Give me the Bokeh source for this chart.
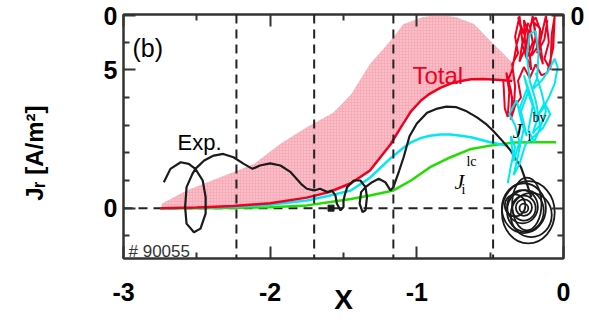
from bokeh.plotting import figure
from bokeh.models import Label, Span, LinearAxis, FixedTicker
from bokeh.embed import file_html
from bokeh.resources import INLINE

# ---------------- data ----------------
band_x = [-2.74, -2.57, -2.34, -2.11, -1.93, -1.75, -1.57, -1.45, -1.32, -1.18,
          -1.09, -0.96, -0.85, -0.73, -0.61, -0.50, -0.41, -0.34]
band_upper = [0.16, 0.64, 1.12, 1.6, 2.33, 2.92, 3.45, 4.1, 5.2, 6.05,
              6.66, 6.9, 7.0, 6.9, 6.66, 6.05, 5.58, 5.2]
band_lower = [0.0, 0.02, 0.06, 0.13, 0.22, 0.35, 0.55, 0.85, 1.3, 2.3,
              3.2, 4.0, 4.35, 4.55, 4.67, 4.65, 4.6, 4.6]

total_x = [-2.75, -2.5, -2.25, -2.0, -1.75, -1.6, -1.45, -1.32, -1.18, -1.1,
           -1.04, -0.97, -0.91, -0.84, -0.77, -0.7, -0.63, -0.55, -0.48, -0.35]
total_y = [0.0, 0.02, 0.08, 0.18, 0.38, 0.58, 0.9, 1.36, 2.3, 3.0,
           3.5, 3.9, 4.14, 4.35, 4.5, 4.6, 4.66, 4.67, 4.65, 4.6]

bv_x = [-2.75, -2.5, -2.25, -2.0, -1.75, -1.6, -1.45, -1.32, -1.18, -1.1,
        -1.04, -0.97, -0.91, -0.84, -0.77, -0.7, -0.63, -0.5, -0.38]
bv_y = [0.0, 0.01, 0.05, 0.12, 0.28, 0.45, 0.64, 1.1, 1.8, 2.15,
        2.38, 2.54, 2.62, 2.66, 2.66, 2.62, 2.56, 2.38, 2.26]

lc_x = [-2.75, -2.5, -2.25, -2.0, -1.75, -1.59, -1.45, -1.32, -1.16, -1.04,
        -0.91, -0.77, -0.63, -0.5, -0.34, -0.2, -0.05]
lc_y = [0.0, 0.0, 0.01, 0.03, 0.1, 0.22, 0.33, 0.46, 0.64, 1.0,
        1.48, 1.84, 2.14, 2.26, 2.37, 2.38, 2.38]

exp_x = [-2.725, -2.68, -2.61, -2.555, -2.51, -2.46, -2.44, -2.44, -2.475, -2.52,
         -2.57, -2.58, -2.57, -2.53, -2.51, -2.45, -2.385, -2.32, -2.25, -2.18,
         -2.12, -2.07, -2.0, -1.93, -1.86, -1.79, -1.75, -1.70, -1.66, -1.61,
         -1.58, -1.555, -1.545, -1.52, -1.50, -1.50, -1.49, -1.475, -1.43, -1.385,
         -1.35, -1.34, -1.35, -1.37, -1.39, -1.38, -1.35, -1.305, -1.26, -1.215,
         -1.18, -1.16, -1.12, -1.09, -1.05, -1.0, -0.93, -0.86, -0.8, -0.73,
         -0.66, -0.59, -0.53, -0.48, -0.42, -0.36, -0.29, -0.25, -0.22]
exp_y = [0.94, 1.42, 1.66, 1.6, 1.42, 1.0, 0.40, -0.2, -0.74, -0.87,
         -0.56, 0.04, 0.76, 1.24, 1.42, 1.72, 1.90, 1.96, 1.84, 1.6,
         1.42, 1.54, 1.62, 1.54, 1.3, 0.88, 0.70, 0.64, 0.70, 0.58,
         0.64, 0.46, 0.16, -0.08, 0.04, 0.28, 0.5, 0.76, 1.0, 1.0,
         0.76, 0.40, -0.08, -0.14, 0.16, 0.58, 0.76, 0.94, 1.06, 0.94,
         0.64, 0.76, 1.36, 1.84, 2.6, 3.06, 3.45, 3.6, 3.67, 3.65,
         3.5, 3.28, 3.05, 2.8, 2.45, 2.08, 1.48, 0.89, 0.4]

# spiral of the experimental curve (ellipse centres and sizes)
sp_x = [-0.24, -0.27, -0.26, -0.28, -0.27, -0.27, -0.27, -0.33, -0.22, -0.25]
sp_y = [-0.15, 0.0, -0.1, 0.05, 0.0, 0.02, 0.0, 0.1, -0.25, 0.15]
sp_w = [0.36, 0.30, 0.25, 0.21, 0.16, 0.11, 0.06, 0.14, 0.28, 0.20]
sp_h = [2.25, 1.8, 1.5, 1.2, 0.9, 0.6, 0.32, 0.8, 1.6, 1.9]
square_x = [-1.585]
square_y = [0.0]

red_nx = [-0.41, -0.40, -0.38, -0.37, -0.39, -0.36, -0.34, -0.33, -0.35, -0.31,
          -0.33, -0.30, -0.28, -0.30, -0.26, -0.27, -0.24, -0.26, -0.22, -0.24,
          -0.21, -0.19, -0.22, -0.18, -0.20, -0.16, -0.17, -0.14, -0.16, -0.12,
          -0.10, -0.13, -0.09, -0.08, -0.06, -0.07, -0.11, -0.15, -0.19, -0.23,
          -0.27, -0.31, -0.29, -0.33, -0.36, -0.35, -0.38, -0.35, -0.32, -0.29,
          -0.31, -0.27, -0.24, -0.28, -0.25, -0.21, -0.23, -0.19, -0.15, -0.18,
          -0.13, -0.11]
red_ny = [4.6, 3.6, 3.3, 4.2, 4.9, 4.3, 3.5, 4.4, 5.2, 5.6,
          6.2, 6.95, 6.0, 5.3, 5.8, 6.8, 6.4, 5.6, 5.0, 6.1,
          6.95, 6.2, 5.5, 5.8, 6.7, 6.5, 5.7, 5.2, 6.0, 6.95,
          6.0, 5.4, 5.0, 6.3, 6.95, 5.8, 4.9, 4.8, 5.2, 4.7,
          5.1, 4.6, 4.0, 3.7, 3.2, 4.0, 4.6, 5.0, 5.9, 6.5,
          6.9, 6.3, 6.7, 5.9, 5.4, 6.0, 6.6, 6.9, 6.3, 5.6,
          6.1, 6.8]

cyan_nx = [-0.38, -0.36, -0.33, -0.36, -0.34, -0.30, -0.33, -0.37, -0.32, -0.28,
           -0.25, -0.29, -0.24, -0.27, -0.22, -0.18, -0.21, -0.16, -0.19, -0.23,
           -0.25, -0.23, -0.19, -0.17, -0.18, -0.21, -0.15, -0.10, -0.06, -0.04,
           -0.06, -0.10, -0.14, -0.18, -0.13, -0.09, -0.14, -0.20, -0.26, -0.30,
           -0.34, -0.31, -0.27, -0.30, -0.25, -0.21, -0.24, -0.20, -0.16, -0.12,
           -0.15, -0.19]
cyan_ny = [0.9, 1.5, 2.2, 2.6, 1.7, 2.4, 3.0, 3.4, 3.9, 3.0,
           2.6, 3.5, 4.2, 4.8, 4.0, 3.2, 2.7, 3.0, 3.9, 4.6,
           5.5, 6.3, 6.4, 5.6, 4.7, 4.3, 4.6, 5.0, 5.4, 5.1,
           4.5, 4.0, 3.6, 3.3, 3.8, 3.4, 2.9, 2.6, 2.3, 1.6,
           1.2, 1.9, 2.9, 3.6, 4.3, 3.7, 2.8, 2.4, 2.9, 3.5,
           4.2, 4.9]

vlines = [-2.23, -1.70, -1.16, -0.48]

x_major = [-3, -2, -1, 0]
x_minor = [-2.5, -1.5, -0.5]
x_labels = {-3: "-3", -2: "-2", -1: "-1", 0: "0"}
y_major = [0, 5, 6.95]
y_minor = [-1, 1, 2, 3, 4, 6]
y_labels_left = {0: "0", 5: "5", 6.95: "0"}
y_labels_right = {0: "", 5: "", 6.95: "0"}

# ---------------- figure ----------------
FONT = "Liberation Sans"
SERIF = "Liberation Serif"
AX = "#333333"
NB = "\u00a0"

p = figure(width=589, height=321, x_range=(-3, 0), y_range=(-1.82, 7.0),
           output_backend="svg", toolbar_location=None,
           min_border_left=123, min_border_right=26, min_border_top=14,
           min_border_bottom=63)
p.grid.visible = False
p.outline_line_color = AX
p.outline_line_width = 2
p.background_fill_color = "white"
p.border_fill_color = "white"


def style_axis(ax, ticker, size="25px"):
    ax.ticker = ticker
    ax.axis_line_color = AX
    ax.axis_line_width = 2
    ax.major_tick_line_color = AX
    ax.major_tick_line_width = 2
    ax.minor_tick_line_color = AX
    ax.minor_tick_line_width = 2
    ax.major_tick_in = 12
    ax.major_tick_out = 0
    ax.minor_tick_in = 6
    ax.minor_tick_out = 0
    ax.major_label_text_font = FONT
    ax.major_label_text_font_style = "bold"
    ax.major_label_text_font_size = size
    ax.major_label_text_color = "black"


xb = p.xaxis[0]
style_axis(xb, FixedTicker(ticks=x_major, minor_ticks=x_minor))
xb.major_label_overrides = x_labels
xb.major_label_standoff = 24
xb.axis_label = "X"
xb.axis_label_text_font = FONT
xb.axis_label_text_font_style = "bold"
xb.axis_label_text_font_size = "28px"
xb.axis_label_text_color = "black"
xb.axis_label_standoff = -20

yl = p.yaxis[0]
style_axis(yl, FixedTicker(ticks=y_major, minor_ticks=y_minor))
yl.major_label_overrides = y_labels_left
yl.major_label_standoff = 6
yl.axis_label = "J\u1d63 [A/m\u00b2]" + NB * 5
yl.axis_label_text_font = FONT
yl.axis_label_text_font_style = "bold"
yl.axis_label_text_font_size = "24px"
yl.axis_label_text_color = "black"
yl.axis_label_standoff = 53

xt = LinearAxis()
style_axis(xt, FixedTicker(ticks=x_major, minor_ticks=x_minor), size="0px")
xt.major_label_standoff = 0
p.add_layout(xt, "above")

yr = LinearAxis()
style_axis(yr, FixedTicker(ticks=y_major, minor_ticks=y_minor))
yr.major_label_overrides = y_labels_right
yr.major_label_standoff = 7
p.add_layout(yr, "right")

# pink stippled band
p.varea(x=band_x, y1=band_lower, y2=band_upper, fill_color="#f4899a", fill_alpha=0.7,
        hatch_pattern="dot", hatch_color="white", hatch_scale=3, hatch_weight=1.2,
        hatch_alpha=0.6)

# dashed lines
for v in vlines:
    p.add_layout(Span(location=v, dimension="height", line_color="#222222",
                      line_width=2, line_dash="9 6"))
p.segment(x0=[-3], y0=[0], x1=[vlines[-1]], y1=[0], line_color="#222222",
          line_width=2, line_dash="9 6")

# curves
p.line(lc_x, lc_y, line_color="#22dd00", line_width=2.5)
p.line(bv_x, bv_y, line_color="#00e8f0", line_width=2.5)
p.line(total_x, total_y, line_color="#f0001e", line_width=2.5)
p.line(exp_x, exp_y, line_color="#1a1a1a", line_width=2.2)
p.ellipse(x=sp_x, y=sp_y, width=sp_w, height=sp_h, fill_color=None,
          line_color="#1a1a1a", line_width=1.8)
p.scatter(square_x, square_y, marker="square", size=6, color="#1a1a1a")
p.line(red_nx, red_ny, line_color="#f0001e", line_width=2)
p.line(cyan_nx, cyan_ny, line_color="#00e8f0", line_width=2)


# ---------------- texts inside the frame ----------------
def lab(x, y, text, size, style="normal", color="black", font=FONT,
        align="left", baseline="alphabetic"):
    p.add_layout(Label(x=x, y=y, text=text, text_font=font, text_font_size=size,
                       text_font_style=style, text_color=color, text_align=align,
                       text_baseline=baseline))


def px(xp):
    return (xp - 123) / 146.7 - 3


def py(yp):
    return (207.7 - yp) / 27.7


lab(px(132), py(47), "(b)", "25px", baseline="middle")
lab(px(177), py(142), "Exp.", "22px")
lab(px(412), py(75), "Total", "24px", color="#f0001e")
lab(px(512), py(130), "J", "22px", style="italic", font=SERIF)
lab(px(532), py(117), "bv", "14px", font=SERIF)
lab(px(527), py(136), "i", "14px", font=SERIF)
lab(px(454), py(181), "J", "22px", style="italic", font=SERIF)
lab(px(466), py(161), "lc", "14px", font=SERIF)
lab(px(461), py(189), "i", "14px", font=SERIF)
lab(px(128), py(251), "# 90055", "17px", color="#333333")

open("out.html", "w").write(file_html(p, INLINE))
